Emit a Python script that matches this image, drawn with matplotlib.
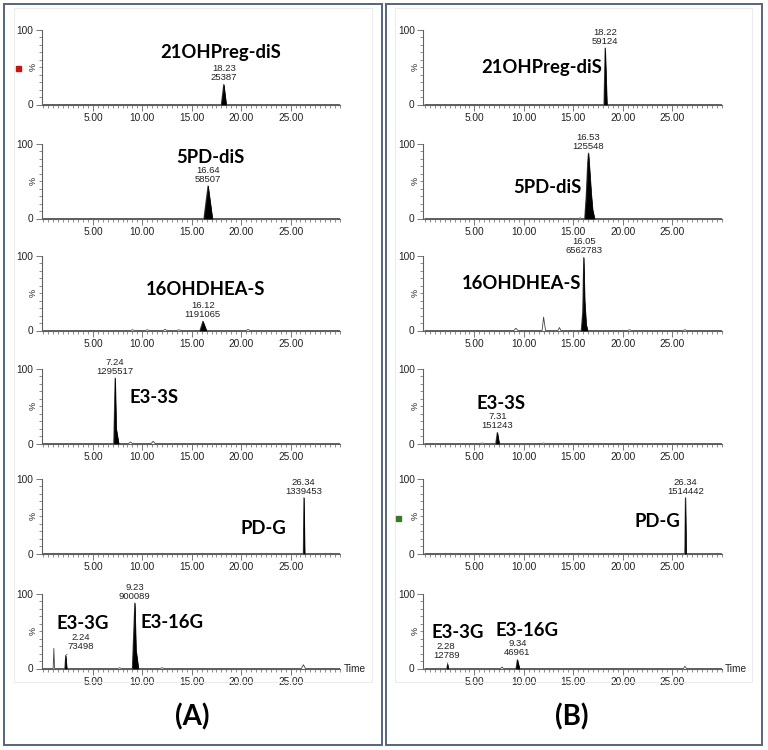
import matplotlib.pyplot as plt
import numpy as np
from matplotlib.patches import Rectangle
from matplotlib.ticker import FormatStrFormatter, MultipleLocator

# ------------------------------------------
# Chromatogram traces (time in min, relative intensity in %)
# Column (A)
# ------------------------------------------
a1_time = [0.0, 17.98, 18.23, 18.48, 30.0]
a1_int = [0, 0, 27, 0, 0]

a2_time = [0.0, 16.22, 16.64, 17.08, 30.0]
a2_int = [0, 0, 44, 0, 0]

a3_time = [0.0, 8.8, 9.0, 9.2, 10.3, 10.5, 10.7, 12.1, 12.3, 12.5, 13.5, 13.7, 13.9,
           15.82, 16.12, 16.48, 20.5, 20.7, 20.9, 30.0]
a3_int = [0, 0, 1, 0, 0, 1, 0, 0, 1.5, 0, 0, 1, 0, 0, 12.5, 0, 0, 1.5, 0, 0]

a4_time = [0.0, 7.1, 7.24, 7.35, 7.6, 8.6, 8.8, 9.0, 10.9, 11.1, 11.3, 30.0]
a4_int = [0, 0, 88, 20, 0, 0, 2, 0, 0, 3, 0, 0]

a5_time = [0.0, 26.28, 26.34, 26.42, 30.0]
a5_int = [0, 0, 75, 0, 0]

a6_time = [0.0, 0.98, 1.05, 1.12, 2.15, 2.24, 2.35, 7.5, 7.7, 7.9, 8.98, 9.23, 9.35,
           9.6, 11.8, 12.0, 12.2, 26.1, 26.3, 26.5, 30.0]
a6_int = [0, 0, 27, 0, 0, 17.5, 0, 0, 1, 0, 0, 88, 25, 0, 0, 1, 0, 0, 5, 0, 0]

# Column (B)
b1_time = [0.0, 18.1, 18.22, 18.4, 30.0]
b1_int = [0, 0, 76, 0, 0]

b2_time = [0.0, 15.6, 15.7, 15.8, 16.15, 16.3, 16.45, 16.53, 16.65, 16.8, 16.95,
           17.15, 30.0]
b2_int = [0, 0, 1, 0, 0, 30, 75, 88, 65, 35, 12, 0, 0]

b3_time = [0.0, 9.0, 9.2, 9.4, 11.85, 12.0, 12.2, 13.45, 13.6, 13.75, 15.8, 15.95,
           16.05, 16.15, 16.3, 16.45, 20.5, 20.7, 20.9, 26.1, 26.3, 26.5, 30.0]
b3_int = [0, 0, 3, 0, 0, 18, 0, 0, 4, 0, 0, 25, 98, 40, 8, 0, 0, 1, 0, 0, 1, 0, 0]

b4_time = [0.0, 5.6, 5.8, 6.0, 7.15, 7.31, 7.5, 11.8, 12.0, 12.2, 30.0]
b4_int = [0, 0, 0.6, 0, 0, 15, 0, 0, 0.6, 0, 0]

b5_time = [0.0, 26.28, 26.34, 26.42, 30.0]
b5_int = [0, 0, 75, 0, 0]

b6_time = [0.0, 1.3, 1.4, 1.5, 2.2, 2.28, 2.35, 7.65, 7.8, 7.95, 9.2, 9.34, 9.55,
           26.15, 26.3, 26.45, 30.0]
b6_int = [0, 0, 0.5, 0, 0, 6, 0, 0, 2, 0, 0, 12, 0, 0, 3, 0, 0]

# Annotated peaks: retention time and area
a_rt = [[18.23], [16.64], [16.12], [7.24], [26.34], [2.24, 9.23]]
a_area = [["25387"], ["58507"], ["1191065"], ["1295517"], ["1339453"], ["73498", "900089"]]
b_rt = [[18.22], [16.53], [16.05], [7.31], [26.34], [2.28, 9.34]]
b_area = [["59124"], ["125548"], ["6562783"], ["151243"], ["1514442"], ["12789", "46961"]]

# Compound names
a_names = [["21OHPreg-diS"], ["5PD-diS"], ["16OHDHEA-S"], ["E3-3S"], ["PD-G"], ["E3-3G", "E3-16G"]]
b_names = a_names

x_ticks = [5, 10, 15, 20, 25]

# ------------------------------------------
# Layout (pixels on the 768x750 canvas)
# ------------------------------------------
W, H = 768, 750
panel_tops = [30, 144, 256, 369, 479, 594]
panel_height = 74.5
col_x = [(41.5, 340.0), (423.0, 721.5)]

a_name_pos = [[(17.97, 70)], [(16.86, 82)], [(16.35, 55)], [(11.19, 62)],
              [(22.22, 34)], [(4.0, 60), (13.0, 62)]]
b_name_pos = [[(11.76, 49)], [(12.36, 41)], [(9.73, 63)], [(7.7, 54)],
              [(23.5, 43)], [(3.35, 48), (10.34, 51)]]
# horizontal shift (points) of the rt/area note, per column / panel / peak
a_note_dx = [[0], [0], [0], [0], [0], [11, 0]]
b_note_dx = [[0], [0], [0], [0], [0], [-1, 0]]

AXIS_GRAY = "#606060"
NAME_FONT = ["Lato", "DejaVu Sans"]
SMALL_FONT = ["Liberation Sans", "DejaVu Sans"]


def draw_panel(ax, t, y, rts, areas, names, name_pos, note_dx, last):
    t = np.asarray(t, dtype=float)
    y = np.asarray(y, dtype=float)
    ax.plot(t, y, color="#444444", lw=0.6, zorder=3)

    for rt, area, dx in zip(rts, areas, note_dx):
        i = int(np.argmin(np.abs(t - rt)))
        i0, i1 = i, i
        while i0 > 0 and y[i0] > 0:
            i0 -= 1
        while i1 < len(y) - 1 and y[i1] > 0:
            i1 += 1
        ax.fill_between(t[i0:i1 + 1], y[i0:i1 + 1], color="black", lw=0.5, zorder=4)
        note = f"{rt:.2f}\n{area}"
        if dx:
            ax.annotate(note, xy=(rt, y[i]), xytext=(dx, 3), textcoords="offset points",
                        ha="center", va="bottom", fontsize=6.8, family=SMALL_FONT,
                        linespacing=1.0, color="#222222",
                        arrowprops=dict(arrowstyle="-", lw=0.5, color="#555555",
                                        shrinkA=0, shrinkB=0),
                        annotation_clip=False)
        else:
            ax.annotate(note, xy=(rt, y[i]), xytext=(0, 1.5), textcoords="offset points",
                        ha="center", va="bottom", fontsize=6.8, family=SMALL_FONT,
                        linespacing=1.0, color="#222222", annotation_clip=False)

    for name, (nx, ny) in zip(names, name_pos):
        ax.text(nx, ny, name, ha="center", va="center", fontsize=13.3,
                fontweight="bold", family=NAME_FONT, color="black")

    ax.set_xlim(-0.2, 30.0)
    ax.set_ylim(0, 100)
    for side in ("top", "right"):
        ax.spines[side].set_visible(False)
    for side in ("left", "bottom"):
        ax.spines[side].set_color(AXIS_GRAY)
        ax.spines[side].set_linewidth(0.8)

    ax.set_xticks(x_ticks)
    ax.xaxis.set_major_formatter(FormatStrFormatter("%.2f"))
    ax.xaxis.set_minor_locator(MultipleLocator(0.5))
    ax.set_yticks([0, 100])
    ax.yaxis.set_minor_locator(MultipleLocator(10))
    ax.tick_params(axis="both", which="major", length=4, width=0.6, color=AXIS_GRAY,
                   labelsize=7.3, labelcolor="#222222", pad=2)
    ax.tick_params(axis="both", which="minor", length=2, width=0.5, color=AXIS_GRAY)
    for lbl in ax.get_xticklabels() + ax.get_yticklabels():
        lbl.set_family(SMALL_FONT)

    ax.text(-0.028, 0.5, "%", transform=ax.transAxes, rotation=90, ha="center",
            va="center", fontsize=6.5, family=SMALL_FONT, color="#222222")
    if last:
        ax.text(1.012, 0.0, "Time", transform=ax.transAxes, ha="left", va="center",
                fontsize=7.3, family=SMALL_FONT, color="#222222")
    ax.patch.set_alpha(0)


fig = plt.figure(figsize=(W / 100, H / 100), dpi=100)

# outer frames of the two columns
for x0, x1 in [(4, 382), (386, 762)]:
    fig.patches.append(Rectangle((x0 / W, 1 - 745 / H), (x1 - x0) / W, 741 / H,
                                 transform=fig.transFigure, fill=False,
                                 edgecolor="#56657c", lw=1.4, zorder=0))
for x0, x1 in [(14, 372), (395, 752)]:
    fig.patches.append(Rectangle((x0 / W, 1 - 682 / H), (x1 - x0) / W, 674 / H,
                                 transform=fig.transFigure, fill=False,
                                 edgecolor="#ececec", lw=0.8, zorder=0))

a_traces = [(a1_time, a1_int), (a2_time, a2_int), (a3_time, a3_int),
            (a4_time, a4_int), (a5_time, a5_int), (a6_time, a6_int)]
b_traces = [(b1_time, b1_int), (b2_time, b2_int), (b3_time, b3_int),
            (b4_time, b4_int), (b5_time, b5_int), (b6_time, b6_int)]

columns = [
    (col_x[0], a_traces, a_rt, a_area, a_names, a_name_pos, a_note_dx),
    (col_x[1], b_traces, b_rt, b_area, b_names, b_name_pos, b_note_dx),
]

for (x0, x1), traces, rts, areas, names, name_pos, note_dx in columns:
    for k, top in enumerate(panel_tops):
        rect = [x0 / W, 1 - (top + panel_height) / H, (x1 - x0) / W, panel_height / H]
        ax = fig.add_axes(rect)
        t, y = traces[k]
        draw_panel(ax, t, y, rts[k], areas[k], names[k], name_pos[k], note_dx[k],
                   last=(k == len(panel_tops) - 1))

# small coloured markers
fig.patches.append(Rectangle((15.5 / W, 1 - 71 / H), 5 / W, 5 / H,
                             transform=fig.transFigure, color="#cc1111"))
fig.patches.append(Rectangle((395.5 / W, 1 - 521 / H), 5 / W, 5 / H,
                             transform=fig.transFigure, color="#3c7a2a"))

fig.text(192 / W, 1 - 717 / H, "(A)", ha="center", va="center", fontsize=20,
         fontweight="bold", family=NAME_FONT)
fig.text(572 / W, 1 - 717 / H, "(B)", ha="center", va="center", fontsize=20,
         fontweight="bold", family=NAME_FONT)

fig.savefig("out.png", dpi=100)
